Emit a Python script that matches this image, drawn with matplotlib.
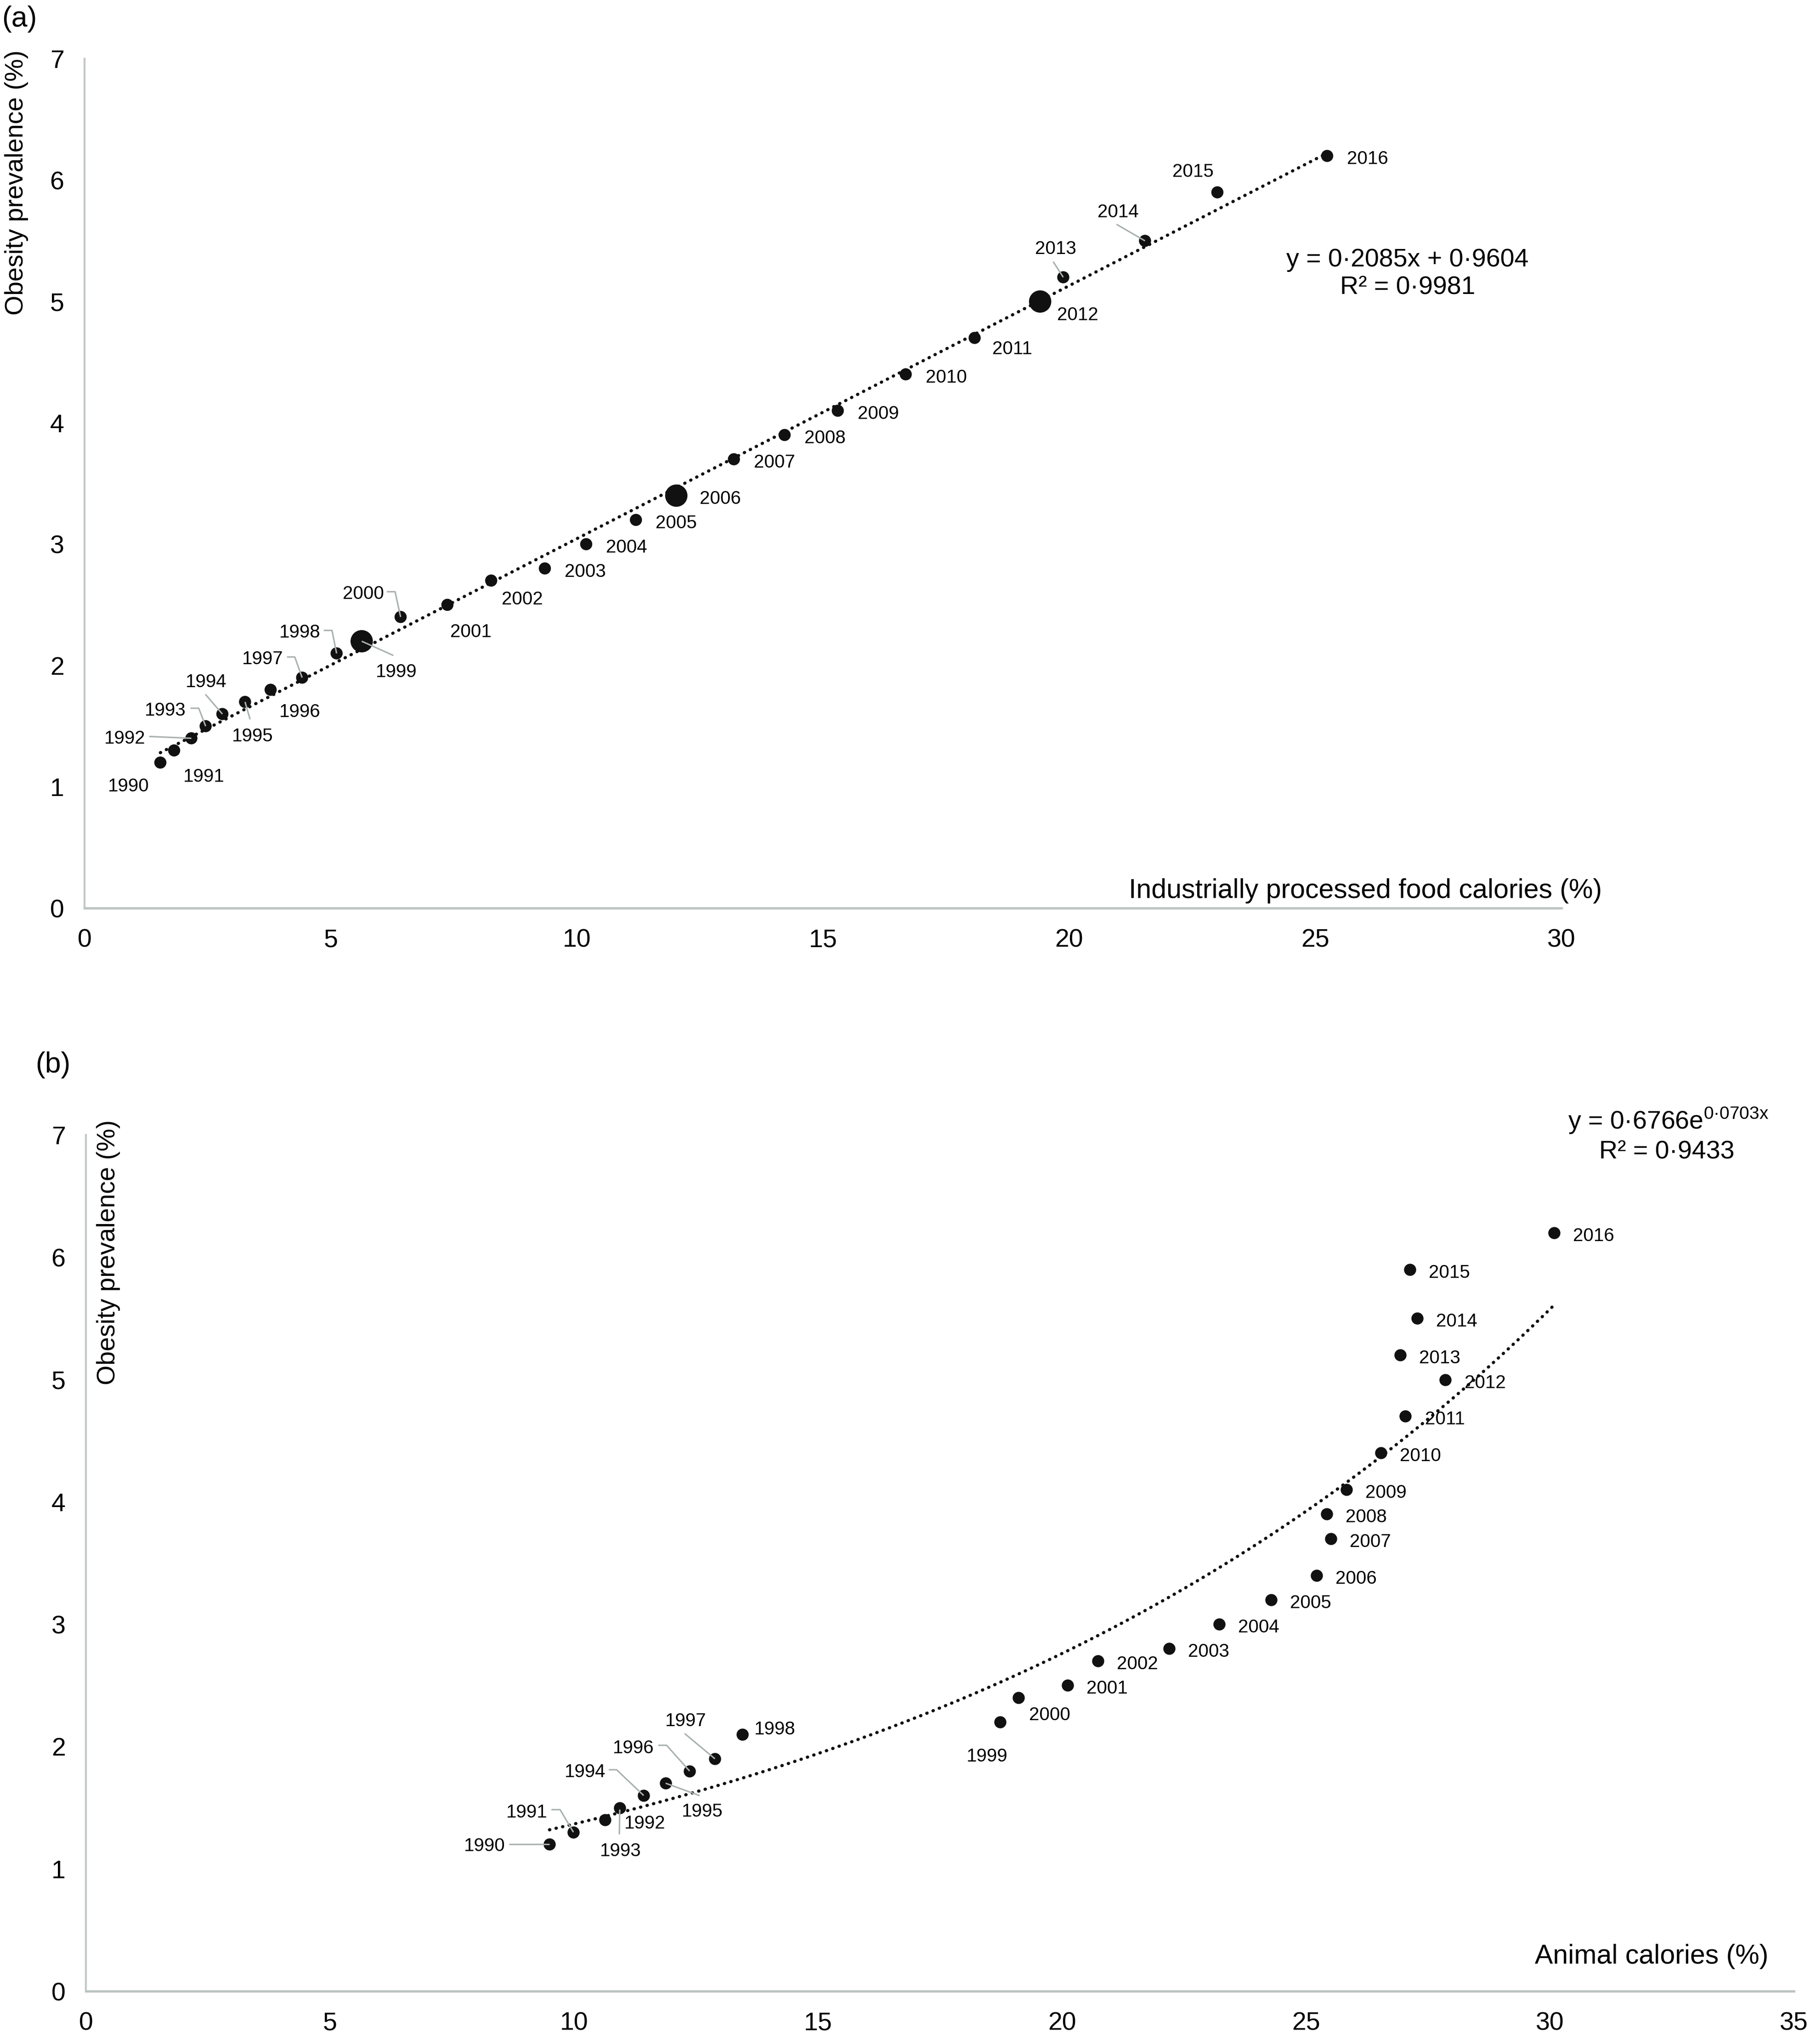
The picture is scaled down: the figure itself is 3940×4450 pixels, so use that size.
import numpy as np
import matplotlib
matplotlib.use('Agg')
import matplotlib.pyplot as plt
import matplotlib.transforms as mtransforms
from matplotlib.lines import Line2D

plt.rcParams['font.family'] = ['Liberation Sans', 'DejaVu Sans']
plt.rcParams['mathtext.fontset'] = 'custom'
plt.rcParams['mathtext.rm'] = 'Liberation Sans'

# data
years = list(range(1990, 2017))
obesity = [1.2, 1.3, 1.4, 1.5, 1.6, 1.7, 1.8, 1.9, 2.1, 2.2, 2.4, 2.5, 2.7, 2.8,
           3.0, 3.2, 3.4, 3.7, 3.9, 4.1, 4.4, 4.7, 5.0, 5.2, 5.5, 5.9, 6.2]
processed = [1.54, 1.82, 2.17, 2.46, 2.80, 3.26, 3.78, 4.42, 5.12, 5.63, 6.42, 7.37,
             8.26, 9.35, 10.19, 11.2, 12.02, 13.19, 14.22, 15.3, 16.68, 18.08,
             19.41, 19.88, 21.54, 23.01, 25.24]
animal = [9.50, 9.99, 10.64, 10.94, 11.43, 11.88, 12.37, 12.89, 13.45, 18.73, 19.11,
          20.12, 20.74, 22.2, 23.22, 24.29, 25.22, 25.51, 25.43, 25.83, 26.54, 27.04,
          27.86, 26.93, 27.28, 27.13, 30.09]
big_years = [1999, 2006, 2012]

lin_a, lin_b = 0.2085, 0.9604
exp_a, exp_b = 0.6766, 0.0703

INK = '#111111'
AXC = '#c3cac8'
LEAD = '#a9b1b0'

fig = plt.figure(figsize=(39.41, 44.50), dpi=100)
ax1 = fig.add_axes([0.04669, 0.5557, 0.8158, 0.4155])
ax2 = fig.add_axes([0.04745, 0.02584, 0.9434, 0.4189])


def style(ax, xmax):
    ax.set_xlim(0, xmax)
    ax.set_ylim(0, 7)
    ax.set_xticks(range(0, xmax + 1, 5))
    ax.set_yticks(range(0, 8))
    for s in ['top', 'right']:
        ax.spines[s].set_visible(False)
    ax.spines['left'].set_color(AXC)
    ax.spines['left'].set_linewidth(3.2)
    ax.spines['bottom'].set_color('#bcc4c2')
    ax.spines['bottom'].set_linewidth(3.6)
    ax.tick_params(length=0, pad=32, labelsize=40, colors='black')


style(ax1, 30)
style(ax2, 35)

# panel a
xa = np.array(processed)
ya = np.array(obesity)
xt = np.linspace(xa.min(), xa.max(), 200)
ax1.plot(xt, lin_a * xt + lin_b, color=INK, lw=5, ls=(0, (0.1, 2.0)),
         dash_capstyle='round', zorder=2)
sizes = [1225 if yr in big_years else 361 for yr in years]
ax1.scatter(xa, ya, s=sizes, color=INK, zorder=3, linewidths=0)

# panel b
xb = np.array(animal)
xt = np.linspace(xb.min(), xb.max(), 200)
ax2.plot(xt, exp_a * np.exp(exp_b * xt), color=INK, lw=5, ls=(0, (0.1, 2.0)),
         dash_capstyle='round', zorder=2)
ax2.scatter(xb, ya, s=361, color=INK, zorder=3, linewidths=0)

# label offsets in pixels (dx, dy up) and leader paths
right = (88, -3)
off_a = {1990: (-69, -48), 1991: (65, -53), 1992: (-145, 3), 1993: (-88, 38),
         1994: (-35, 74), 1995: (16, -71), 1996: (64, -44), 1997: (-86, 44),
         1998: (-80, 49), 1999: (75, -63), 2000: (-81, 54), 2001: (51, -55),
         2002: (68, -37), 2006: (96, -3), 2011: (82, -20), 2012: (82, -26),
         2013: (-17, 66), 2014: (-59, 66), 2015: (-53, 49)}
lead_a = {1992: [(-92, 4), (0, 0)], 1993: [(-33, 39), (-15, 39), (0, 0)],
          1994: [(-37, 43), (0, 0)], 1995: [(0, 0), (11, -38)],
          1997: [(-33, 45), (-16, 45), (0, 0)], 1998: [(-28, 50), (-10, 50), (0, 0)],
          1999: [(0, 0), (69, -31)], 2000: [(-30, 55), (-12, 55), (0, 0)],
          2013: [(-22, 34), (0, 0)], 2014: [(-62, 36), (0, 0)]}
off_b = {1990: (-141, 0), 1991: (-101, 47), 1992: (86, -4), 1993: (2, -90),
         1994: (-128, 55), 1995: (80, -58), 1996: (-122, 54), 1997: (-64, 86),
         1998: (71, 15), 1999: (-28, -71), 2000: (68, -34)}
lead_b = {1990: [(-88, 0), (0, 0)], 1991: [(-48, 49), (-29, 49), (0, 0)],
          1993: [(0, -4), (-1, -58)], 1994: [(-76, 56), (-59, 56), (0, 0)],
          1995: [(0, 0), (74, -27)], 1996: [(-68, 56), (-50, 56), (0, 0)],
          1997: [(-66, 55), (0, 0)]}


def labels(ax, xs, offs, leads, default):
    for yr, x, y in zip(years, xs, obesity):
        dx, dy = offs.get(yr, default)
        ax.annotate(str(yr), (x, y), xytext=(dx, dy - 4), textcoords='offset pixels',
                    ha='center', va='center', fontsize=29, color='black', zorder=5)
        if yr in leads:
            px, py = ax.transData.transform((x, y))
            tr = mtransforms.Affine2D().translate(px, py)
            lx, ly = zip(*leads[yr])
            fig.add_artist(Line2D(lx, ly, transform=tr, color=LEAD, lw=2.3,
                                  zorder=4, solid_capstyle='butt'))


labels(ax1, processed, off_a, lead_a, right)
labels(ax2, animal, off_b, lead_b, (86, -3))

# axis titles
ax1.text(-0.046, 0.8545, 'Obesity prevalence (%)', rotation=90, ha='center',
         va='center', fontsize=40, transform=ax1.transAxes)
ax1.text(1.0274, 0.0119, 'Industrially processed food calories (%)', ha='right',
         va='baseline', fontsize=42.5, transform=ax1.transAxes)
ax2.text(0.0132, 0.8627, 'Obesity prevalence (%)', rotation=90, ha='center',
         va='center', fontsize=40, transform=ax2.transAxes)
ax2.text(0.985, 0.032, 'Animal calories (%)', ha='right', va='baseline',
         fontsize=42.5, transform=ax2.transAxes)

# equations
ax1.text(0.8958, 0.7469, 'y = 0·2085x + 0·9604\nR² = 0·9981', ha='center',
         va='center', fontsize=40, linespacing=1.2, transform=ax1.transAxes)
ax2.text(0.9266, 1.0166, r'y = 0·6766e$^{\mathregular{0·0703x}}$', ha='center',
         va='center', fontsize=40, transform=ax2.transAxes)
ax2.text(0.9255, 0.980, 'R² = 0·9433', ha='center', va='center', fontsize=40,
         transform=ax2.transAxes)

fig.text(0.0107, 0.9906, '(a)', ha='center', va='center', fontsize=45)
fig.text(0.0292, 0.4789, '(b)', ha='center', va='center', fontsize=45)

fig.savefig('out.png', dpi=100, facecolor='white')
